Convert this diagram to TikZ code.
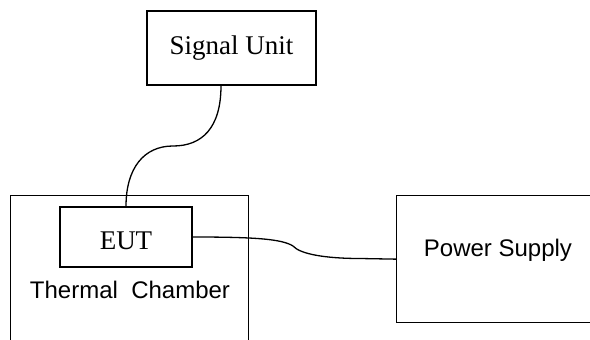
\documentclass[tikz,border=0pt]{standalone}
\usepackage{fontspec}
\setmainfont{Liberation Serif}
\setsansfont{Liberation Sans}
\tikzset{
    unitbox/.style={draw, inner sep=0pt},
    serif lbl/.style={font=\fontsize{27}{30}\selectfont},
    sans lbl/.style={font=\sffamily\fontsize{24}{28}\selectfont}
}
\begin{document}
\begin{tikzpicture}[x=1pt, y=-1pt, line width=1.3pt]
    \clip (0,0) rectangle (590,340);
    %camera termica (aperta in basso)
    \node[unitbox, anchor=north west, minimum width=238pt, minimum height=260pt] (chamber) at (10,195) {};
    \node[sans lbl] (chlabel) at (130,290) {Thermal\ \ Chamber};
    %EUT
    \node[unitbox, serif lbl, minimum width=132pt, minimum height=60pt, text height=26pt] (eut) at (126,237) {EUT};
    %unita segnale
    \node[unitbox, serif lbl, minimum width=169pt, minimum height=74pt] (sigunit) at (231.5,48) {Signal Unit};
    %alimentatore
    \node[unitbox, anchor=north west, minimum width=260pt, minimum height=127pt] (psupply) at (396,195) {};
    \node[sans lbl] (pslabel) at (498,250.5) {Power Supply};
    
    %cavi
    \coordinate (sigbend) at (173,146);
    \coordinate (pwbump) at (293,246);
    \draw ([xshift=-10.5pt]sigunit.south) .. controls (221,128) and (202,146) .. (sigbend)
        .. controls (144,146) and (126,168) .. (eut.north);
    \draw (eut.east) .. controls (255,237) and (282,239) .. (pwbump)
        .. controls (300,254) and (325,258.5) .. (360,258.5) -- (psupply.west);
\end{tikzpicture}
\end{document}
